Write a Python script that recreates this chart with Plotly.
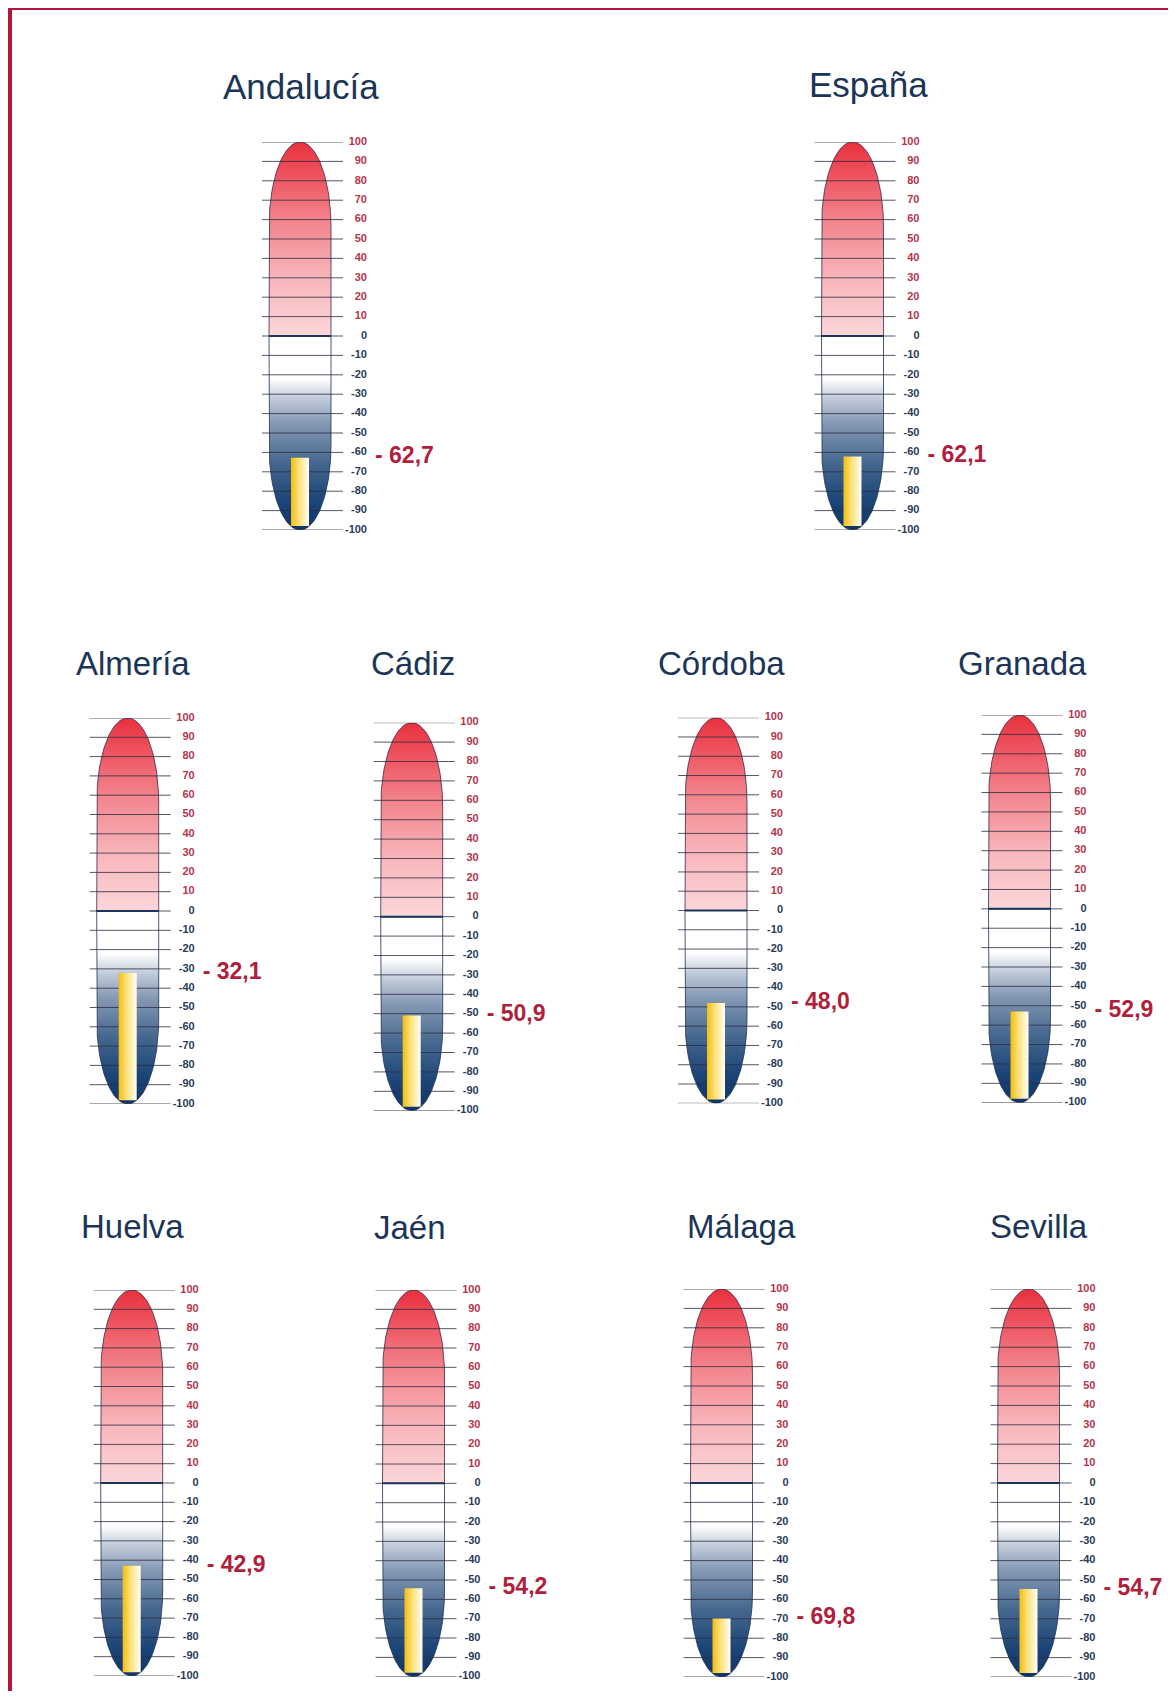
import numpy as np
import plotly.graph_objects as go

# --- data -------------------------------------------------------------------
REGIONS = ["Andalucía", "España", "Almería", "Cádiz", "Córdoba", "Granada",
           "Huelva", "Jaén", "Málaga", "Sevilla"]
VALUES = [-62.7, -62.1, -32.1, -50.9, -48.0, -52.9, -42.9, -54.2, -69.8, -54.7]
TICKS = [100, 90, 80, 70, 60, 50, 40, 30, 20, 10, 0,
         -10, -20, -30, -40, -50, -60, -70, -80, -90, -100]

# --- layout (page pixels) ---------------------------------------------------
W, H = 1160, 1683
OFF = 8  # browser body margin

# tube centre x, y of +100, y of -100, title centre x, title baseline, title size
PANELS = [
    (300.0, 142.0, 530.0, 301.0, 99, 35),
    (852.5, 142.0, 530.0, 868.0, 97, 35),
    (127.7, 718.0, 1104.0, 133.0, 675, 33),
    (411.7, 722.7, 1110.7, 412.5, 675, 33),
    (716.0, 717.7, 1103.3, 721.0, 675, 33),
    (1019.5, 715.0, 1102.7, 1022.5, 675, 33),
    (131.7, 1290.0, 1676.0, 133.0, 1238, 33),
    (413.5, 1290.0, 1676.7, 410.0, 1239, 33),
    (721.5, 1289.0, 1677.0, 741.5, 1238, 33),
    (1028.5, 1289.0, 1677.0, 1039.0, 1238, 33),
]
X_LO, X_HI = -45, 80
TUBE_R = 31
CAP = 44
GRID_L, GRID_R = -38, 43
TICK_X = 67
LABEL_X = 75
BAR_HALF = 9
BAR_BASE = -98

RED_SCALE = [[0.0, "#fbd6d9"], [0.3, "#f8b6bb"], [0.6, "#f2838c"],
             [0.85, "#ed4f5b"], [1.0, "#e8303e"]]
BLUE_SCALE = [[0.0, "#0f3568"], [0.15, "#1b4576"], [0.35, "#46688f"],
              [0.55, "#8599b4"], [0.68, "#c3cdda"], [0.78, "#ffffff"], [1.0, "#ffffff"]]
GOLD_SCALE = [[0.0, "#f3bd12"], [0.45, "#fbe27c"], [1.0, "#fffef6"]]

TITLE_COLOR = "#1b3558"
RED_TXT = "#b5354c"
NAVY_TXT = "#2a3b5a"
VALUE_COLOR = "#b01e3c"
BORDER = "#b3163b"
FONT = "Liberation Sans, Arial, sans-serif"


def tube_half(sign):
    t = np.linspace(0, np.pi, 80)
    ex = -TUBE_R * np.cos(t)
    ey = sign * (100 - CAP + CAP * np.sin(t))
    xs = np.concatenate([[-TUBE_R], ex, [TUBE_R, -TUBE_R]])
    ys = np.concatenate([[0], ey, [0, 0]])
    return xs, ys


def fmt(v):
    return f"- {abs(v):.1f}".replace(".", ",")


fig = go.Figure()
layout = {}
annotations = []

grid_x, grid_y = [], []
for t in TICKS:
    grid_x += [GRID_L, GRID_R, None]
    grid_y += [t, t, None]
tick_colors = [RED_TXT if t > 0 else NAVY_TXT for t in TICKS]

for k, (name, val) in enumerate(zip(REGIONS, VALUES)):
    cx, y_top, y_bot, tx, tb, tfs = PANELS[k]
    sfx = "" if k == 0 else str(k + 1)
    xa, ya = "x" + sfx, "y" + sfx

    x0 = (cx + X_LO - OFF) / W
    x1 = (cx + X_HI - OFF) / W
    y0 = 1 - (y_bot - OFF) / H
    y1 = 1 - (y_top - OFF) / H
    layout["xaxis" + sfx] = dict(domain=[x0, x1], range=[X_LO, X_HI], visible=False,
                                 fixedrange=True, anchor=ya)
    layout["yaxis" + sfx] = dict(domain=[y0, y1], range=[-100, 100], visible=False,
                                 fixedrange=True, anchor=xa)

    ux, uy = tube_half(1)
    fig.add_trace(go.Scatter(
        x=ux, y=uy, xaxis=xa, yaxis=ya, mode="lines", fill="toself",
        fillgradient=dict(type="vertical", colorscale=RED_SCALE, start=0, stop=100),
        line=dict(color="rgba(60,40,70,0.8)", width=1), hoverinfo="skip",
    ))
    lx, ly = tube_half(-1)
    fig.add_trace(go.Scatter(
        x=lx, y=ly, xaxis=xa, yaxis=ya, mode="lines", fill="toself",
        fillgradient=dict(type="vertical", colorscale=BLUE_SCALE, start=-100, stop=0),
        line=dict(color="rgba(30,50,80,0.8)", width=1), hoverinfo="skip",
    ))
    fig.add_trace(go.Scatter(
        x=grid_x, y=grid_y, xaxis=xa, yaxis=ya, mode="lines",
        line=dict(color="rgba(45,45,65,0.8)", width=1), hoverinfo="skip",
    ))
    fig.add_trace(go.Scatter(
        x=[-TUBE_R, TUBE_R], y=[0, 0], xaxis=xa, yaxis=ya, mode="lines",
        line=dict(color="#1d3461", width=2), hoverinfo="skip",
    ))
    # value bar
    fig.add_trace(go.Scatter(
        x=[-BAR_HALF, BAR_HALF, BAR_HALF, -BAR_HALF, -BAR_HALF],
        y=[BAR_BASE, BAR_BASE, val, val, BAR_BASE],
        xaxis=xa, yaxis=ya, mode="lines", fill="toself",
        fillgradient=dict(type="horizontal", colorscale=GOLD_SCALE,
                          start=-BAR_HALF, stop=BAR_HALF),
        line=dict(width=0), hoverinfo="skip",
    ))
    fig.add_trace(go.Scatter(
        x=[TICK_X] * len(TICKS), y=TICKS, xaxis=xa, yaxis=ya, mode="text",
        text=[str(t) for t in TICKS], textposition="middle left",
        textfont=dict(family=FONT, size=11, color=tick_colors, weight="bold"),
        cliponaxis=False, hoverinfo="skip",
    ))
    fig.add_trace(go.Scatter(
        x=[LABEL_X], y=[val], xaxis=xa, yaxis=ya, mode="text",
        text=[fmt(val)], textposition="middle right",
        textfont=dict(family=FONT, size=23, color=VALUE_COLOR, weight="bold"),
        cliponaxis=False, hoverinfo="skip",
    ))

    annotations.append(dict(
        text=name, xref="paper", yref="paper",
        x=(tx - OFF) / W, y=1 - (tb - 0.35 * tfs - OFF) / H,
        xanchor="center", yanchor="middle", showarrow=False,
        font=dict(family=FONT, size=tfs, color=TITLE_COLOR),
    ))

fig.update_layout(
    width=W, height=H,
    margin=dict(l=0, r=0, t=0, b=0),
    paper_bgcolor="white", plot_bgcolor="rgba(0,0,0,0)",
    showlegend=False,
    annotations=annotations,
    shapes=[
        dict(type="line", xref="paper", yref="paper", x0=0.0013, x1=0.0013, y0=0, y1=1,
             line=dict(color=BORDER, width=5)),
        dict(type="line", xref="paper", yref="paper", x0=0, x1=1, y0=1, y1=1,
             line=dict(color=BORDER, width=4)),
    ],
    **layout,
)

fig.write_html("out.html")
